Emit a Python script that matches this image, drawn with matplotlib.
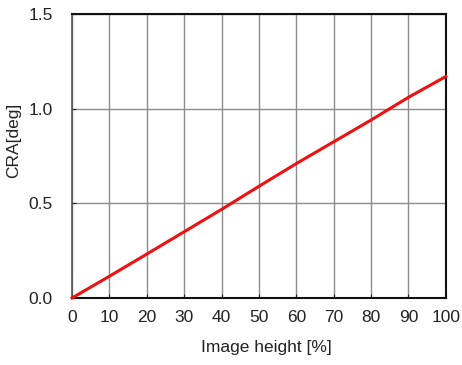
import numpy as np
import matplotlib.pyplot as plt

plt.rcParams['font.family'] = ['Liberation Sans', 'DejaVu Sans']

# 像高 vs CRA
image_height = [0, 10, 20, 30, 40, 50, 60, 70, 80, 90, 100]
cra_deg = [0.0, 0.115, 0.232, 0.35, 0.468, 0.59, 0.71, 0.825, 0.94, 1.06, 1.17]

fig = plt.figure(figsize=(4.62, 3.65), dpi=100)
ax = fig.add_axes([0.156, 0.1836, 0.809, 0.778])

ax.plot(image_height, cra_deg, color='#ee1111', lw=2.2, zorder=3, clip_on=False)

ax.set_xlim(0, 100)
ax.set_ylim(0, 1.5)
ax.set_xticks(np.arange(0, 101, 10))
ax.set_yticks([0.0, 0.5, 1.0, 1.5])
ax.set_yticklabels(['0.0', '0.5', '1.0', '1.5'])
ax.grid(True, color='#8c8c8c', lw=1.0)
ax.tick_params(direction='in', length=3, labelsize=12.5, colors='#222222')
ax.tick_params(axis='x', pad=9)
ax.tick_params(axis='y', pad=14)

for side in ['top', 'bottom', 'right']:
    ax.spines[side].set_color('#111111')
    ax.spines[side].set_linewidth(1.5)
ax.spines['left'].set_color('#555555')
ax.spines['left'].set_linewidth(1.2)

ax.set_xlabel('Image height [%]', fontsize=12.5, color='#222222')
ax.set_ylabel('CRA[deg]', fontsize=12.5, color='#222222')
ax.xaxis.set_label_coords(0.521, -0.148)
ax.yaxis.set_label_coords(-0.137, 0.556)

fig.savefig('out.png', dpi=100)
